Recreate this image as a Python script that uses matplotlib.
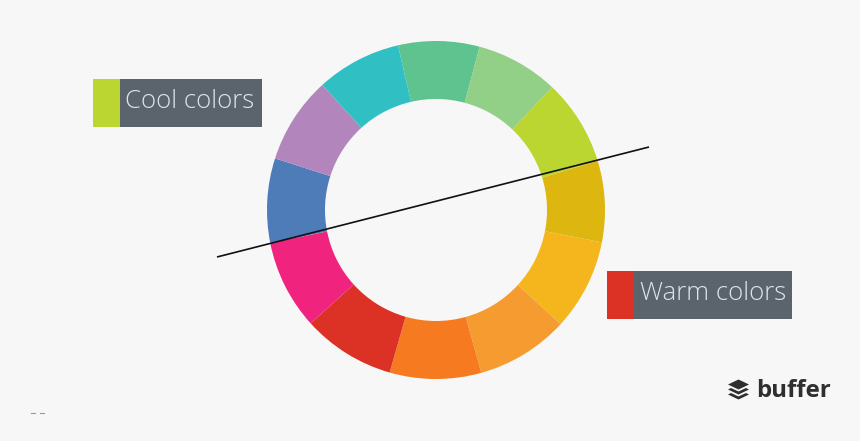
import matplotlib
matplotlib.use("Agg")
import matplotlib.pyplot as plt
from matplotlib.patches import Rectangle, Polygon

W, H = 860, 441
BG = "#f7f7f7"

# wedge sizes in degrees, clockwise starting from the teal/green boundary
slice_names = ["green", "light green", "lime", "yellow", "amber", "light orange",
               "orange", "red", "pink", "blue", "purple", "teal"]
slice_sizes = [28, 28.5, 29.7, 28, 31.5, 32, 31.5, 32, 31, 29, 30, 29.3]
slice_colors = ["#5fc38f", "#92cf87", "#bbd631", "#ddb70f", "#f4b61c", "#f59b30",
                "#f67a20", "#dc3226", "#f0237f", "#4e7cb8", "#b286bc", "#30c0c4"]

divider_x = [217, 649]
divider_y = [257, 147]


def fy(y):
    return H - y


fig = plt.figure(figsize=(W / 100, H / 100), dpi=100, facecolor=BG)
ax = fig.add_axes([0, 0, 1, 1])
ax.set_facecolor(BG)

ax.pie(slice_sizes, colors=slice_colors, startangle=103, counterclock=False,
       center=(436, fy(210)), radius=169, frame=True,
       wedgeprops=dict(width=58, linewidth=0))

ax.plot(divider_x, [fy(y) for y in divider_y], color="#111111", lw=1.2, solid_capstyle="butt")


def label(x0, x1, x2, y0, y1, swatch, text, tx):
    ax.add_patch(Rectangle((x0, fy(y1)), x1 - x0, y1 - y0, color=swatch, lw=0))
    ax.add_patch(Rectangle((x1, fy(y1)), x2 - x1, y1 - y0, color="#5b636d", lw=0))
    ax.text(tx, fy((y0 + y1) / 2 - 1.5), text, color="#dfe4ea", fontsize=18.5,
            family="Open Sans", fontweight="light", ha="left", va="center")


label(93, 120, 262, 79, 127, "#bbd631", "Cool colors", 125)
label(607, 634, 792, 271, 319, "#dc3226", "Warm colors", 640)

# buffer logo: one solid diamond and two chevrons under it
ax.add_patch(Polygon([(728, fy(384.5)), (738.5, fy(379.5)), (749, fy(384.5)), (738.5, fy(389.5))],
                     color="#2f2f2f", lw=0))
for top in (390, 395):
    ax.add_patch(Polygon([(728, fy(top - 0.5)), (731, fy(top - 2)), (738.5, fy(top + 1.5)),
                          (746, fy(top - 2)), (749, fy(top - 0.5)), (738.5, fy(top + 4.5))],
                         color="#2f2f2f", lw=0))

ax.text(756, fy(391), "buffer", color="#2f2f2f", fontsize=17.3, family="Open Sans",
        fontweight="bold", ha="left", va="center")

# two stray dashes at the bottom left
ax.plot([31, 35], [fy(412.5), fy(412.5)], color="#999999", lw=0.8)
ax.plot([40, 44], [fy(412.5), fy(412.5)], color="#999999", lw=0.8)

ax.set_xlim(0, W)
ax.set_ylim(0, H)
ax.set_aspect("equal")
ax.axis("off")

fig.savefig("out.png", dpi=100, facecolor=BG)
